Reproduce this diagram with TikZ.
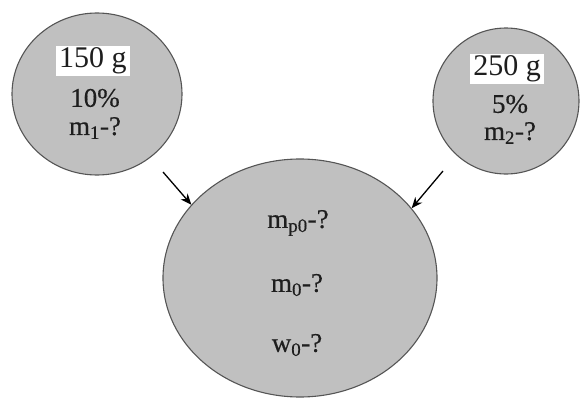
\documentclass[tikz,border=0pt]{standalone}
\usepackage{fontspec}
\setmainfont{Liberation Serif}
\newfontfamily\heavy[FakeBold=0.4]{Liberation Serif}
\usetikzlibrary{shapes.geometric,arrows.meta}
\definecolor{fillgray}{RGB}{192,192,192}
\definecolor{edgegray}{RGB}{85,85,85}
\definecolor{txt}{RGB}{30,30,30}
\tikzset{
  blob/.style={ellipse, draw=edgegray, fill=fillgray, line width=1.1pt, inner sep=0pt},
  lbl/.style={font=\heavy\fontsize{27}{29}\selectfont, text=txt, inner sep=0pt},
  boxlbl/.style={font=\fontsize{30}{32}\selectfont, text=txt, fill=white, inner xsep=3pt, inner ysep=2pt},
  arr/.style={-{Stealth[length=11pt,width=9pt]}, line width=1.3pt, black}
}
\begin{document}
\begin{tikzpicture}[x=1pt,y=-1pt]
\useasboundingbox (0,0) rectangle (582,399);
\node[blob, minimum width=170pt, minimum height=162pt] (left) at (97,94) {};
\node[blob, minimum width=146pt, minimum height=146pt] (right) at (506,101) {};
\node[blob, minimum width=274pt, minimum height=238pt] (big) at (300,278) {};
\node[boxlbl] (t150) at (93,61) {150 g};
\node[lbl] (t10) at (95,98) {10\%};
\node[lbl] (tm1) at (95,128) {m\textsubscript{1}-?};
\node[boxlbl] (t250) at (507,69) {250 g};
\node[lbl] (t5) at (510,104) {5\%};
\node[lbl] (tm2) at (510,133) {m\textsubscript{2}-?};
\node[lbl] (tmp0) at (298,223) {m\textsubscript{p0}-?};
\node[lbl] (tm0) at (297,285) {m\textsubscript{0}-?};
\node[lbl] (tw0) at (297,345) {w\textsubscript{0}-?};
\coordinate (a1) at (163,172);
\coordinate (a2) at (443,171);
\draw[arr] (a1) -- (big.146);
\draw[arr] (a2) -- (big.32);
\end{tikzpicture}
\end{document}
